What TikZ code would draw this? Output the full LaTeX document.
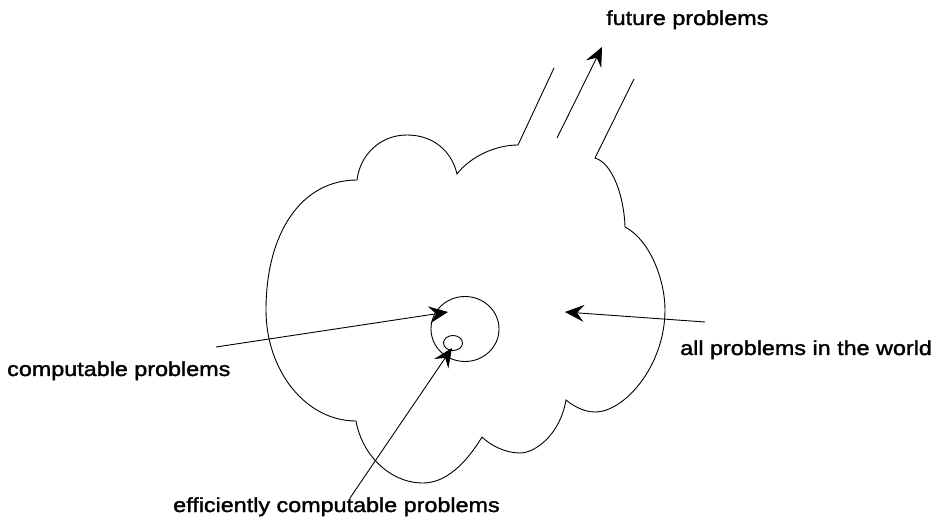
\documentclass[tikz,border=0pt]{standalone}
\usepackage{fontspec}
\setmainfont{Liberation Sans}[FakeStretch=1.15,FakeBold=1.6]
\usetikzlibrary{arrows.meta,shapes.geometric}
\begin{document}
\begin{tikzpicture}[x=1bp,y=-1bp,
  outline/.style={line width=0.9bp,black},
  pointer/.style={line width=0.9bp,black,-{Stealth[length=19bp,width=17bp,inset=7bp]}},
  caption/.style={inner sep=0pt,anchor=base west,font=\fontsize{20.3bp}{24bp}\selectfont},
  region/.style={draw,ellipse,line width=0.9bp,inner sep=0pt}]
\useasboundingbox (0,0) rectangle (946,529);

% cloud outline: left part up to the open neck
\draw[outline] (356,421)
  .. controls (306,421) and (266,371) .. (266,310)
  .. controls (266,232) and (302,180) .. (357,180)
  .. controls (360,155) and (380,135) .. (407,135)
  .. controls (434,135) and (452,152) .. (457,174)
  .. controls (470,157) and (495,145) .. (518,145)
  -- (554,68);
% cloud outline: right part from the neck round the bottom
\draw[outline] (634,79) -- (595,158)
  .. controls (612,163) and (624,195) .. (625,227)
  .. controls (650,240) and (665,280) .. (665,310)
  .. controls (665,365) and (625,412) .. (595,412)
  .. controls (583,412) and (572,405) .. (566,400)
  .. controls (560,435) and (535,453) .. (520,453)
  .. controls (505,453) and (490,445) .. (482,437)
  .. controls (465,465) and (445,483) .. (423,483)
  .. controls (390,483) and (362,455) .. (356,421);

% nested regions
\node[region,minimum width=68bp,minimum height=65bp] (comp) at (465,329) {};
\node[region,minimum width=19bp,minimum height=15bp] (eff) at (453,343) {};

% labels
\node[caption] (future) at (606,25) {future problems};
\node[caption] (computable) at (7,376) {computable problems};
\node[caption] (all) at (680,355) {all problems in the world};
\node[caption] (efficient) at (173,512) {efficiently computable problems};

% arrow ends
\coordinate (futTail) at (557,138);
\coordinate (futTip) at (602,47);
\coordinate (compTail) at (216,347);
\coordinate (compTip) at (448,312);
\coordinate (effTail) at (350,498);
\coordinate (effTip) at (452,348);
\coordinate (allTail) at (705,322);
\coordinate (allTip) at (565,312);

\draw[pointer] (futTail) -- (futTip);
\draw[pointer] (compTail) -- (compTip);
\draw[pointer] (effTail) -- (effTip);
\draw[pointer] (allTail) -- (allTip);
\end{tikzpicture}
\end{document}
